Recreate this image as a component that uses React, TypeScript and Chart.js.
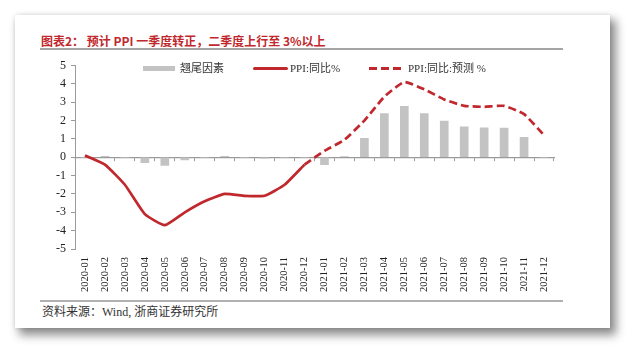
import React, { useEffect, useRef } from "react";
import { Chart, registerables } from "chart.js";

Chart.register(...registerables);

const categories = [
  "2020-01", "2020-02", "2020-03", "2020-04", "2020-05", "2020-06",
  "2020-07", "2020-08", "2020-09", "2020-10", "2020-11", "2020-12",
  "2021-01", "2021-02", "2021-03", "2021-04", "2021-05", "2021-06",
  "2021-07", "2021-08", "2021-09", "2021-10", "2021-11", "2021-12",
];

const tailFactor = [
  0, 0.05, 0, -0.3, -0.45, -0.15, 0, 0.05, 0, -0.05, 0, 0,
  -0.4, 0.03, 1.03, 2.38, 2.78, 2.38, 1.97, 1.66, 1.6, 1.59, 1.08, 0,
];

const ppiActual = [
  0.1, -0.4, -1.5, -3.1, -3.7, -3.0, -2.4, -2.0, -2.1, -2.1, -1.5, -0.4,
  null, null, null, null, null, null, null, null, null, null, null, null,
];

const ppiForecast = [
  null, null, null, null, null, null, null, null, null, null, null, -0.4,
  0.35, 0.95, 2.0, 3.3, 4.1, 3.7, 3.15, 2.8, 2.75, 2.8, 2.35, 1.2,
];

const yTicks = [-5, -4, -3, -2, -1, 0, 1, 2, 3, 4, 5];

const RED = "#c0282d";
const BAR = "#c3c3c3";
const AXIS = "#9a9a9a";
const SERIF = "'Liberation Serif', 'Noto Sans CJK SC', serif";

export default function App() {
  const ref = useRef<HTMLCanvasElement | null>(null);

  useEffect(() => {
    if (!ref.current) return;
    const chart = new Chart(ref.current, {
      type: "bar",
      data: {
        labels: categories,
        datasets: [
          {
            type: "line",
            label: "PPI:同比%",
            data: ppiActual,
            borderColor: RED,
            borderWidth: 2.7,
            pointRadius: 0,
            tension: 0.15,
            fill: false,
            order: 1,
            xAxisID: "x",
            yAxisID: "y",
          } as any,
          {
            type: "line",
            label: "PPI:同比:预测 %",
            data: ppiForecast,
            borderColor: RED,
            borderWidth: 2.7,
            borderDash: [8, 4],
            pointRadius: 0,
            tension: 0.15,
            fill: false,
            order: 2,
            xAxisID: "x",
            yAxisID: "y",
          } as any,
          {
            type: "bar",
            label: "翘尾因素",
            data: tailFactor,
            backgroundColor: BAR,
            barThickness: 8,
            order: 3,
            xAxisID: "x",
            yAxisID: "y",
          } as any,
        ],
      },
      options: {
        responsive: false,
        animation: false,
        devicePixelRatio: 1,
        layout: { padding: { left: 45, right: 86, top: 65.5, bottom: 59 } },
        plugins: { legend: { display: false }, tooltip: { enabled: false }, title: { display: false } },
        scales: {
          y: {
            min: -5,
            max: 5,
            position: "left",
            afterBuildTicks: (s: any) => {
              s.ticks = yTicks.map((v) => ({ value: v }));
            },
            afterFit: (s: any) => {
              s.width = 30;
            },
            ticks: {
              stepSize: 1,
              padding: 5,
              color: "#222",
              font: { family: SERIF, size: 12 },
            },
            grid: { drawOnChartArea: false, drawTicks: true, tickLength: 4, color: AXIS },
            border: { display: true, color: AXIS, width: 1 },
          },
          x: {
            type: "category",
            offset: true,
            position: { y: 0 } as any,
            ticks: { display: false },
            grid: { offset: true, drawOnChartArea: false, drawTicks: true, tickLength: 3, color: AXIS },
            border: { display: true, color: AXIS, width: 1.2 },
          },
          xl: {
            type: "category",
            offset: true,
            position: "bottom",
            afterFit: (s: any) => {
              s.height = 50;
            },
            ticks: {
              autoSkip: false,
              maxRotation: 90,
              minRotation: 90,
              padding: 8,
              color: "#222",
              font: { family: SERIF, size: 10.5 },
            },
            grid: { display: false, drawTicks: false },
            border: { display: false },
          },
        } as any,
      },
    });
    return () => chart.destroy();
  }, []);

  const legendText: React.CSSProperties = {
    position: "absolute",
    top: 61,
    fontFamily: SERIF,
    fontSize: 11,
    color: "#333",
    lineHeight: "14px",
    whiteSpace: "nowrap",
  };

  return (
    <div style={{ position: "fixed", left: 0, top: 0, width: 640, height: 358, background: "#fff", overflow: "hidden" }}>
      <div
        style={{
          position: "absolute",
          left: 15,
          top: 15,
          width: 595,
          height: 313,
          background: "#fff",
          boxShadow: "5px 6px 9px 1px rgba(0,0,0,0.45), 0 0 4px rgba(0,0,0,0.12)",
        }}
      />
      <div
        style={{
          position: "absolute",
          left: 41,
          top: 33,
          fontFamily: "'Noto Sans CJK SC', sans-serif",
          fontWeight: 700,
          fontSize: 12,
          lineHeight: "16px",
          color: RED,
          whiteSpace: "nowrap",
        }}
      >
        图表2： 预计 PPI 一季度转正，二季度上行至 3%以上
      </div>
      <div style={{ position: "absolute", left: 40, top: 48, width: 523, height: 2, background: "#a5a5a5" }} />
      <div style={{ position: "absolute", left: 40, top: 300, width: 523, height: 2, background: "#b0b0b0" }} />
      <div
        style={{
          position: "absolute",
          left: 42,
          top: 304,
          fontFamily: SERIF,
          fontSize: 12,
          lineHeight: "16px",
          color: "#333",
          whiteSpace: "nowrap",
        }}
      >
        资料来源：Wind, 浙商证券研究所
      </div>

      <canvas ref={ref} width={640} height={358} style={{ position: "absolute", left: 0, top: 0, width: 640, height: 358 }} />

      <div style={{ position: "absolute", left: 143, top: 66, width: 32, height: 5, background: BAR }} />
      <div style={{ ...legendText, left: 180 }}>翘尾因素</div>
      <div style={{ position: "absolute", left: 253, top: 67, width: 35, height: 3, background: RED, borderRadius: 1.5 }} />
      <div style={{ ...legendText, left: 290 }}>PPI:同比%</div>
      <div
        style={{
          position: "absolute",
          left: 369,
          top: 67,
          width: 34,
          height: 3,
          background: `repeating-linear-gradient(to right, ${RED} 0px, ${RED} 8px, transparent 8px, transparent 12px)`,
        }}
      />
      <div style={{ ...legendText, left: 408 }}>PPI:同比:预测 %</div>
    </div>
  );
}
